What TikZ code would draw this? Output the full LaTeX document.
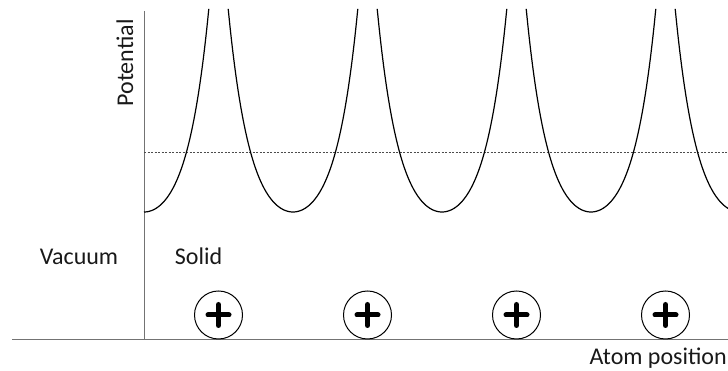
\documentclass[tikz,border=0pt]{standalone}
\usepackage{fontspec}
\setmainfont{Carlito}
\begin{document}
\begin{tikzpicture}[x=1pt,y=1pt,
  axis/.style={draw=black!55,line width=1pt},
  pot/.style={draw=black,line width=1.2pt},
  level/.style={draw=black!70,line width=0.7pt,dash pattern=on 2pt off 1.5pt},
  atom/.style={circle,draw=black,line width=1pt,minimum size=48pt,inner sep=0pt},
  plusbar/.style={line width=5pt,line cap=round},
  lbl/.style={font=\fontsize{24}{28}\selectfont,text=black!90,inner sep=0pt}]
\useasboundingbox (0,0) rectangle (728,371);
% axes
\coordinate (ytop) at (144,360);
\coordinate (orig) at (144,31.5);
\coordinate (xl) at (12,31.5);
\coordinate (xr) at (728,31.5);
\draw[axis] (ytop) -- (orig);
\draw[axis] (xl) -- (xr);
% level
\coordinate (lvl) at (144,219);
\coordinate (lvr) at (728,219);
\draw[level] (lvl) -- (lvr);
% potential wells
\foreach \m/\a/\b in {144/144/208.8, 293/228.2/357.8, 442/377.2/506.8, 591/526.2/655.8, 740/675.2/728}{
  \draw[pot] plot[domain=\a:\b,samples=80,smooth] (\x,{159+23.8*(0.5*(exp((\x-\m)/22)+exp(-(\x-\m)/22))-1)});
}
% atoms
\foreach \i/\xx in {1/218.5,2/367.5,3/516.5,4/665.5}{
  \node[atom] (atom\i) at (\xx,56) {};
  \draw[plusbar] ([xshift=-10.5pt]atom\i.center) -- ([xshift=10.5pt]atom\i.center);
  \draw[plusbar] ([yshift=-10.5pt]atom\i.center) -- ([yshift=10.5pt]atom\i.center);
}
% labels
\node[lbl,anchor=base] (vac) at (79,106) {Vacuum};
\node[lbl,anchor=base] (sol) at (198.5,106) {Solid};
\node[lbl,anchor=base east] (apos) at (727,6) {Atom position};
\node[lbl,anchor=base,rotate=90] (potlab) at (133,308) {Potential};
\end{tikzpicture}
\end{document}
